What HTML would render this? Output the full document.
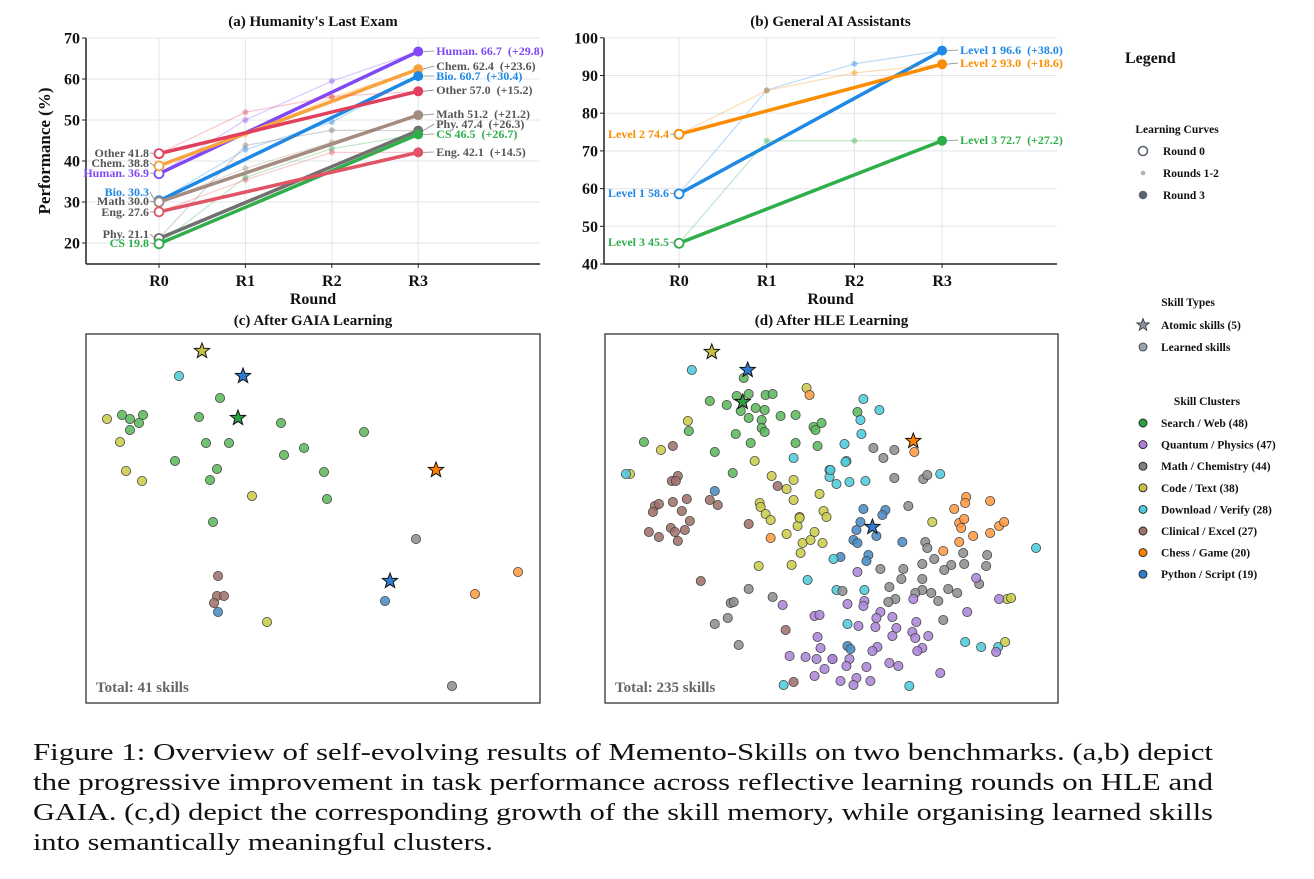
<!DOCTYPE html>
<html><head><meta charset="utf-8"><style>
html,body{margin:0;padding:0;background:#fff;}
svg{display:block;font-family:"Liberation Serif",serif;}
</style></head><body>
<svg id="fig" width="1314" height="879" viewBox="0 0 1314 879" xmlns="http://www.w3.org/2000/svg"></svg>
<script>
// ---------- DATA ----------
const rounds = ['R0','R1','R2','R3'];
// Panel (a) HLE
const hleNames = ['Human.','Chem.','Bio.','Other','Math','Phy.','CS','Eng.'];
const hleHuman = [36.9, 50.0, 59.5, 66.7];
const hleChem  = [38.8, 46.5, 55.5, 62.4];
const hleBio   = [30.3, 42.8, 49.5, 60.7];
const hleOther = [41.8, 51.9, 55.7, 57.0];
const hleMath  = [30.0, 38.2, 44.6, 51.2];
const hlePhy   = [21.1, 43.8, 47.5, 47.4];
const hleCS    = [19.8, 36.0, 43.0, 46.5];
const hleEng   = [27.6, 35.4, 42.1, 42.1];
const hleTicks = [20,30,40,50,60,70];
// Panel (b) GAIA
const gaiaNames = ['Level 1','Level 2','Level 3'];
const gaiaL1 = [58.6, 86.1, 93.1, 96.6];
const gaiaL2 = [74.4, 86.0, 90.7, 93.0];
const gaiaL3 = [45.5, 72.7, 72.7, 72.7];
const gaiaTicks = [40,50,60,70,80,90,100];
// Clusters
const clusterNames = ['Search / Web (48)','Quantum / Physics (47)','Math / Chemistry (44)','Code / Text (38)','Download / Verify (28)','Clinical / Excel (27)','Chess / Game (20)','Python / Script (19)'];
// Embedding coords [dim1, dim2, cluster]  G=0 P=1 M=2 Y=3 C=4 B=5 O=6 L=7
const gaiaAtomic = [[116,17,3],[157,42,7],[152,84,0],[350,136,6],[304,247,7]];
const gaiaSkills = [[93,42,4],
[134,64,0],[36,81,0],[44,85,0],[57,81,0],[53,89,0],[44,96,0],[113,83,0],[195,89,0],[278,98,0],[120,109,0],[143,109,0],[218,114,0],[198,121,0],[89,127,0],[131,135,0],[124,146,0],[238,138,0],[241,165,0],[127,188,0],
[21,85,3],[34,108,3],[40,137,3],[56,147,3],[166,162,3],[181,288,3],
[330,205,2],[366,352,2],
[132,242,5],[131,262,5],[138,262,5],[128,269,5],
[132,278,7],[299,267,7],[432,238,6],[389,260,6]];
const hleAtomic = [[107,18,3],[143,36,7],[138,68,0],[309,107,6],[268,193,7]];
const hleSkills = [[87,36,4],[139,44,0],[202,54,3],[205,61,6],
[105,67,0],[122,71,0],[132,62,0],[144,60,0],[161,61,0],[168,60,0],[136,77,0],[151,74,0],[160,76,0],[176,82,0],[191,81,0],[144,84,0],[157,86,0],[157,94,0],[160,98,0],[209,93,0],[217,89,0],[211,96,0],[131,100,0],[146,109,0],[191,109,0],[213,112,0],[39,108,0],[84,97,0],[110,118,0],[128,139,0],[253,78,0],
[83,87,3],[56,116,3],[150,127,3],[25,140,3],[167,142,3],[189,146,3],[182,155,3],[189,166,3],[215,160,3],[219,177,3],[155,169,3],[156,173,3],[161,180,3],[195,183,3],[222,183,3],
[21,140,4],[189,124,4],[225,136,4],[225,143,4],
[68,112,5],[73,142,5],[67,147,5],[71,147,5],[173,152,5],[82,165,5],[68,168,5],[77,177,5],[50,172,5],[54,170,5],[48,178,5],[105,166,5],[113,171,5],
[110,157,7],
[259,65,4],[275,76,4],[256,86,4],[257,100,4],[240,110,4],[242,127,4],[241,128,4],[226,136,4],[232,150,4],[245,148,4],[261,147,4],[336,140,4],
[310,118,6],
[269,114,2],[290,116,2],[279,124,2],[290,144,2],[319,145,2],[323,141,2],[304,172,2],
[362,163,6],[361,169,6],[386,167,6],[350,175,6],
[259,175,7],[281,176,7],[278,181,7],
[85,187,5],[44,198,5],[54,203,5],[66,194,5],[70,198,5],[80,196,5],[73,207,5],[144,190,5],[96,247,5],
[166,204,6],
[182,200,3],[193,192,3],[210,198,3],[198,209,3],[206,206,3],[218,209,3],[196,219,3],[154,232,3],[187,231,3],[166,186,3],[195,184,3],
[203,246,4],[179,351,4],
[144,255,2],[126,269,2],[129,268,2],[168,263,2],[123,284,2],[110,290,2],[134,311,2],
[178,271,1],[210,282,1],[215,281,1],[213,303,1],[216,314,1],[185,322,1],[201,323,1],[212,325,1],[228,325,1],[220,335,1],[210,342,1],
[181,296,5],[189,348,5],
[256,188,7],[252,196,7],[272,202,7],[249,206,7],[253,209,7],[298,208,7],[236,223,7],[264,221,7],[262,227,7],[243,312,7],[246,315,7],
[229,225,4],[232,256,4],[260,256,4],[243,290,4],[361,308,4],[377,313,4],[394,313,4],[305,352,4],[432,214,4],
[328,188,3],[403,265,3],[407,264,3],[401,308,3],
[355,189,6],[360,185,6],[357,194,6],[369,202,6],[386,199,6],[395,192,6],[400,188,6],[355,208,6],[339,217,6],
[321,208,2],[323,214,2],[359,219,2],[383,221,2],[330,225,2],[360,230,2],[382,232,2],[347,231,2],[340,236,2],[318,230,2],[299,235,2],[276,235,2],[297,245,2],[318,245,2],[375,250,2],[285,253,2],[344,255,2],[353,259,2],[327,259,2],[318,256,2],[311,259,2],[291,265,2],[284,268,2],[334,267,2],[339,286,2],[238,257,2],
[253,238,1],[372,244,1],[243,270,1],[260,267,1],[259,272,1],[309,265,1],[395,265,1],[363,278,1],[276,278,1],[272,284,1],[288,283,1],[254,292,1],[271,293,1],[292,294,1],[312,288,1],[308,298,1],[311,304,1],[324,302,1],[288,302,1],[273,313,1],[268,317,1],[318,314,1],[313,317,1],[392,318,1],[228,325,1],[245,325,1],[242,332,1],[262,333,1],[285,329,1],[294,332,1],[236,347,1],[252,344,1],[249,351,1],[266,347,1],[336,339,1]];

// ---------- STYLE ----------
const clusterColors = ['#5cb85c','#ad85d9','#8f8f8f','#cccc4a','#4fcbdc','#a0716a','#ff9a42','#4a8cc6'];
const starColors = ['#2ea043','#ab7fd6','#888','#c8c244','#4fcbdc','#a0716a','#ff8000','#2f7bd0'];
const hleColors = ['#8148f5','#f7a33e','#1e88e5','#e0405e','#a58c80','#707070','#2fae4a','#e05565'];
const hleLabelColors = ['#8148f5','#555','#1e88e5','#555','#555','#555','#2fae4a','#555'];
const gaiaColors = ['#1e88e5','#fb8c00','#2fae4a'];

const svg = document.getElementById('fig');
const NS = 'http://www.w3.org/2000/svg';
function mk(tag, attrs, parent){const e=document.createElementNS(NS,tag);for(const k in attrs)e.setAttribute(k,attrs[k]);(parent||svg).appendChild(e);return e;}
function txt(s, attrs, parent){const e=mk('text',attrs,parent);e.textContent=s;return e;}

function lineChart(o){
  const g = mk('g',{});
  
  
  const xS = i => o.x0 + i*o.step;
  const yS = v => o.yBase - (v - o.vBase)*o.k;
  o.ticks.forEach(t=>{mk('line',{x1:o.left,x2:o.right,y1:yS(t),y2:yS(t),stroke:'#e2e5ec','stroke-width':1},g);});
  rounds.forEach((r,i)=>{mk('line',{x1:xS(i),x2:xS(i),y1:o.top,y2:o.bottom,stroke:'#e2e5ec','stroke-width':1},g);});
  mk('line',{x1:o.left,x2:o.left,y1:o.top,y2:o.bottom,stroke:'#222','stroke-width':1.5},g);
  mk('line',{x1:o.left,x2:o.right,y1:o.bottom,y2:o.bottom,stroke:'#222','stroke-width':1.5},g);
  o.ticks.forEach(t=>{
    mk('line',{x1:o.left-4,x2:o.left,y1:yS(t),y2:yS(t),stroke:'#222'},g);
    const tl=txt(String(t),{x:o.left-6,y:yS(t)+5.5,'text-anchor':'end','font-size':16,'font-weight':'bold',fill:'#111'},g);
    
    
  });
  rounds.forEach((r,i)=>{
    mk('line',{x1:xS(i),x2:xS(i),y1:o.bottom,y2:o.bottom+4,stroke:'#222'},g);
    const tl=txt(r,{x:xS(i),y:o.bottom+22,'text-anchor':'middle','font-size':16,'font-weight':'bold',fill:'#111'},g);
    
    
  });
  const xt=txt('Round',{x:(o.left+o.right)/2,y:o.bottom+40,'text-anchor':'middle','font-size':16,'font-weight':'bold',fill:'#111'},g);
  
  
  const tt=txt(o.title,{x:(o.left+o.right)/2,y:o.top-12,'text-anchor':'middle','font-size':15,'font-weight':'bold',fill:'#111'},g);
  
  
  if(o.ytitle){
    const yt=txt(o.ytitle,{x:0,y:0,transform:`translate(${o.left-36},${(o.top+o.bottom)/2}) rotate(-90)`,'text-anchor':'middle','font-size':17,'font-weight':'bold',fill:'#111'},g);
    
    
  }
  o.series.forEach((vals,si)=>{
    const c=o.colors[si];
    const sg=mk('g',{},g);
    
    
    mk('polyline',{points:vals.map((v,i)=>xS(i)+','+yS(v)).join(' '),fill:'none',stroke:c,'stroke-width':1.2,opacity:0.3},sg);
    [1,2].forEach(i=>{mk('circle',{cx:xS(i),cy:yS(vals[i]),r:3,fill:c,opacity:0.4},sg);});
    mk('line',{x1:xS(0),y1:yS(vals[0]),x2:xS(3),y2:yS(vals[3]),stroke:c,'stroke-width':3.5,'stroke-linecap':'round'},sg);
    mk('circle',{cx:xS(0),cy:yS(vals[0]),r:4.5,fill:'#fff',stroke:c,'stroke-width':1.8},sg);
    mk('circle',{cx:xS(3),cy:yS(vals[3]),r:5,fill:c},sg);
    const lc=o.labelColors[si];
    const ly=o.leftLabelY[si];
    mk('line',{x1:xS(0)-9,y1:ly,x2:xS(0)-4,y2:yS(vals[0]),stroke:'#888','stroke-width':0.8},sg);
    const l1=txt(o.names[si]+' '+vals[0].toFixed(1),{x:xS(0)-10,y:ly+4,'text-anchor':'end','font-size':12,'font-weight':'bold',fill:lc},sg);
    
    
    const ry=o.rightLabelY[si];
    mk('line',{x1:xS(3)+5,y1:yS(vals[3]),x2:xS(3)+16,y2:ry,stroke:'#888','stroke-width':0.8},sg);
    const d=(vals[3]-vals[0]).toFixed(1);
    const l2=txt(o.names[si]+' '+vals[3].toFixed(1)+'\u2002(+'+d+')',{x:xS(3)+18,y:ry+4,'font-size':12,'font-weight':'bold',fill:lc},sg);
    
    
  });
}

lineChart({name:'hle-chart',title:"(a) Humanity's Last Exam",ytitle:'Performance (%)',left:86,right:540,top:38,bottom:264,
  x0:159,step:86.4,yBase:243,vBase:20,k:4.1,ticks:hleTicks,
  series:[hleHuman,hleChem,hleBio,hleOther,hleMath,hlePhy,hleCS,hleEng],names:hleNames,colors:hleColors,labelColors:hleLabelColors,
  leftLabelY:[173,163,192,153,201,234,243,212],
  rightLabelY:[51,66,76,90,114,124,134,152]});
lineChart({name:'gaia-chart',title:'(b) General AI Assistants',left:604,right:1057,top:38,bottom:264,
  x0:679,step:87.7,yBase:264,vBase:40,k:3.77,ticks:gaiaTicks,
  series:[gaiaL1,gaiaL2,gaiaL3],names:gaiaNames,colors:gaiaColors,labelColors:gaiaColors,
  leftLabelY:[193,134,242],rightLabelY:[50,63,140]});

// ---------- SCATTER ----------
function starPath(cx,cy,R){const r=R*0.42;let p='';for(let i=0;i<10;i++){const a=-Math.PI/2+i*Math.PI/5;const rr=i%2?r:R;p+=(i?'L':'M')+(cx+rr*Math.cos(a)).toFixed(1)+','+(cy+rr*Math.sin(a)).toFixed(1);}return p+'Z';}
function scatter(o){
  const g=mk('g',{});
  
  
  const xS=v=>o.x+v*(o.w/454), yS=v=>o.y+v*(o.h/369);
  const box=mk('rect',{x:o.x,y:o.y,width:o.w,height:o.h,fill:'#fff',stroke:'#333','stroke-width':1.3},g);
  
  
  const t=txt(o.title,{x:o.x+o.w/2,y:o.y-9,'text-anchor':'middle','font-size':15,'font-weight':'bold',fill:'#111'},g);
  
  
  o.skills.forEach(p=>{
    const c=mk('circle',{cx:xS(p[0]),cy:yS(p[1]),r:4.6,fill:clusterColors[p[2]],stroke:'#444','stroke-width':0.8,'fill-opacity':0.88},g);
    
    
  });
  o.atomic.forEach(p=>{
    const s=mk('path',{d:starPath(xS(p[0]),yS(p[1]),8),fill:starColors[p[2]],stroke:'#111','stroke-width':1},g);
    
    
  });
  const tot=txt('Total: '+o.total+' skills',{x:o.x+10,y:o.y+o.h-11,'font-size':15,'font-weight':'bold',fill:'#666'},g);
  
  
}
scatter({name:'gaia-skill-map',title:'(c) After GAIA Learning',x:86,y:334,w:454,h:369,skills:gaiaSkills,atomic:gaiaAtomic,total:41});
scatter({name:'hle-skill-map',title:'(d) After HLE Learning',x:605,y:334,w:453,h:369,skills:hleSkills,atomic:hleAtomic,total:235});

// ---------- LEGEND ----------
const lg=mk('g',{});


const lt=txt('Legend',{x:1125,y:63,'font-size':16,'font-weight':'bold',fill:'#111'},lg);


function ltxt(s,x,y,anchor,name){const e=txt(s,{x:x,y:y,'font-size':11.5,'font-weight':'bold',fill:'#111','text-anchor':anchor||'start'},lg);return e;}
ltxt('Learning Curves',1177,133,'middle','legend-section-title');
mk('circle',{cx:1143,cy:151,r:4.5,fill:'#fff',stroke:'#5a6470','stroke-width':1.6},lg);
ltxt('Round 0',1163,155,'start','legend-entry');
mk('circle',{cx:1143,cy:173,r:2.3,fill:'#aab2bb'},lg);
ltxt('Rounds 1-2',1163,177,'start','legend-entry');
mk('circle',{cx:1143,cy:195,r:4.3,fill:'#5a6470'},lg);
ltxt('Round 3',1163,199,'start','legend-entry');
ltxt('Skill Types',1188,306,'middle','legend-section-title');
mk('path',{d:starPath(1143,325,6.5),fill:'#8a949e',stroke:'#333','stroke-width':0.8},lg);
ltxt('Atomic skills (5)',1161,329,'start','legend-entry');
mk('circle',{cx:1143,cy:347,r:4,fill:'#9aa3ad',stroke:'#333','stroke-width':0.8},lg);
ltxt('Learned skills',1161,351,'start','legend-entry');
ltxt('Skill Clusters',1207,405,'middle','legend-section-title');
clusterNames.forEach((n,i)=>{
  const y=423+i*21.6;
  mk('circle',{cx:1143,cy:y,r:4,fill:starColors[i]==='#888'?'#808080':starColors[i],stroke:'#222','stroke-width':0.9},lg);
  ltxt(n,1161,y+4,'start','legend-entry');
});

// ---------- CAPTION ----------
const cap=mk('g',{});


const capLines=['Figure 1: Overview of self-evolving results of Memento-Skills on two benchmarks. (a,b) depict',
'the progressive improvement in task performance across reflective learning rounds on HLE and',
'GAIA. (c,d) depict the corresponding growth of the skill memory, while organising learned skills',
'into semantically meaningful clusters.'];
const capLens=[1180,1180,1180,460];
capLines.forEach((s,i)=>{
  const a={x:33,y:760+i*30,'font-size':24,fill:'#111',textLength:capLens[i],lengthAdjust:'spacingAndGlyphs'};
  const e=txt(s,a,cap);
  
  
});
</script>
</body></html>
